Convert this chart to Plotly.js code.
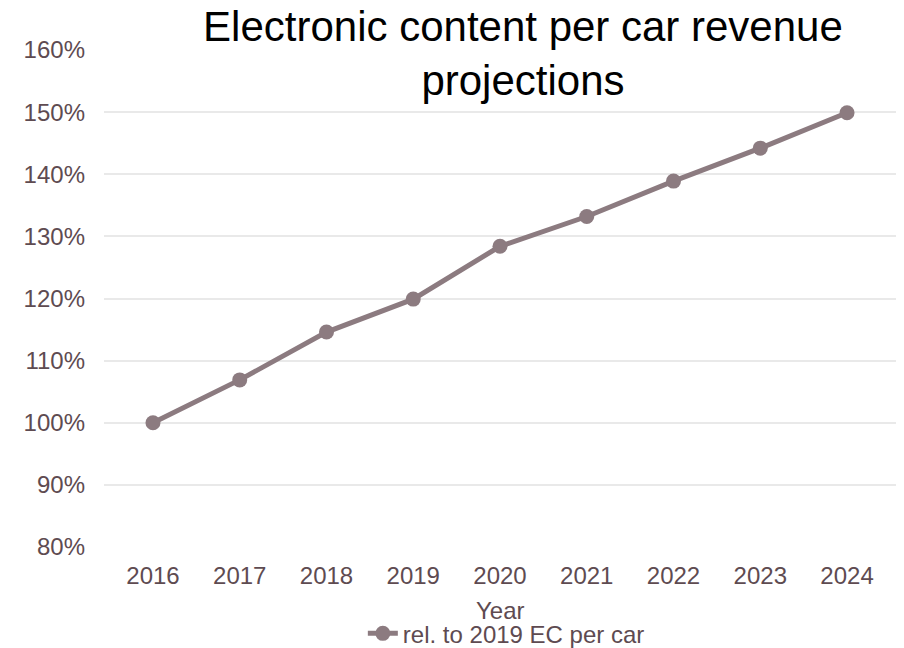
<!DOCTYPE html>
<html>
<head>
<meta charset="utf-8">
<script src="https://cdn.plot.ly/plotly-3.0.1.min.js"></script>
<style>html,body{margin:0;padding:0;background:#fff;}#chart{width:904px;height:648px;}</style>
</head>
<body>
<div id="chart"></div>
<script>
const years = ["2016","2017","2018","2019","2020","2021","2022","2023","2024"];
const relEC = [1.00, 1.069, 1.146, 1.199, 1.284, 1.332, 1.389, 1.442, 1.499];
const seriesName = "rel. to 2019 EC per car";
const titleText = "Electronic content per car revenue<br>projections";
const xTitle = "Year";

const textColor = "#5e4b51";
const lineColor = "#8c7b80";
const fontFam = "Liberation Sans, Arial, sans-serif";

Plotly.newPlot("chart", [{
  x: years, y: relEC, type: "scatter", mode: "lines+markers", name: seriesName,
  line: {color: lineColor, width: 5},
  marker: {color: lineColor, size: 15}
}], {
  width: 904, height: 648,
  paper_bgcolor: "#fff", plot_bgcolor: "#fff",
  margin: {l: 104, r: 8, t: 50, b: 101},
  font: {family: fontFam, color: textColor, size: 24},
  title: {text: titleText, font: {size: 42, color: "#000", family: fontFam}, x: 0.5785, xanchor: "center", y: 0.937, yanchor: "middle", xref: "container", yref: "container"},
  xaxis: {type: "category", showgrid: false, zeroline: false, showline: false, ticks: "", ticklabelstandoff: 12,
    automargin: false, tickfont: {size: 24}},
  yaxis: {range: [0.8, 1.6], dtick: 0.1, tickformat: ".0%", gridcolor: "#e9e9e9", gridwidth: 1.5, zeroline: false, showline: false,
    ticks: "", ticklabelstandoff: 18, automargin: false, tickfont: {size: 24}},
  annotations: [{text: xTitle, xref: "paper", yref: "paper", x: 0.5, y: -0.127, xanchor: "center", yanchor: "middle", showarrow: false, font: {size: 24, color: textColor}}],
  showlegend: true,
  legend: {orientation: "h", x: 0.508, xanchor: "center", y: 0.022, yanchor: "middle", yref: "container", font: {size: 24, color: textColor}, bgcolor: "rgba(0,0,0,0)"}
}, {displayModeBar: false});
</script>
</body>
</html>
